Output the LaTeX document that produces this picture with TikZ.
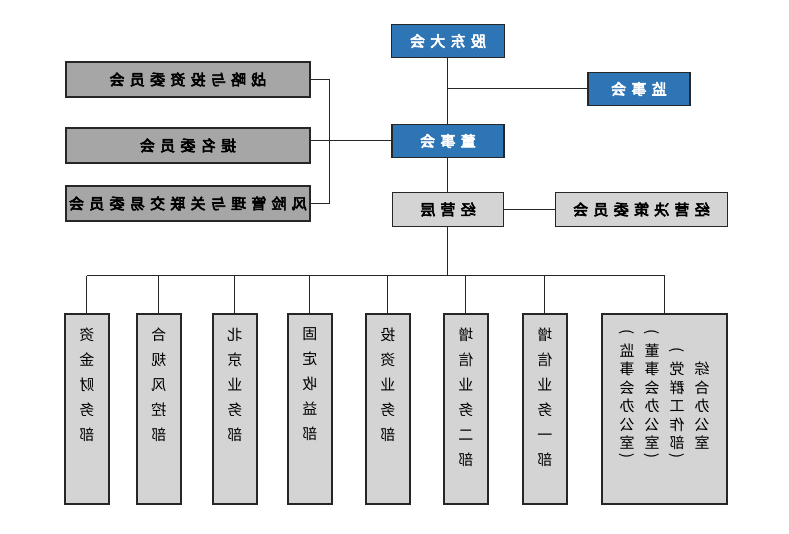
\documentclass[tikz,border=0pt]{standalone}
\usepackage{fontspec}
\usepackage{graphicx}
\setmainfont{Noto Sans CJK SC}
\newfontfamily\headfont{Noto Sans CJK SC}[AutoFakeBold=4, LetterSpace=35]
\usetikzlibrary{positioning}

\definecolor{boardblue}{RGB}{46,117,182}
\definecolor{cmtgray}{RGB}{166,166,166}
\definecolor{deptgray}{RGB}{212,212,212}
\definecolor{linegray}{RGB}{38,38,38}

% one department name, written top to bottom
\newcommand{\vtext}[1]{\parbox[c][162pt][t]{40pt}{\centering #1}}
% one column of the office box
\newcommand{\vcol}[1]{\parbox[b]{25pt}{\centering #1}}
% brackets for vertical text
\newcommand{\vopen}{\rotatebox[origin=c]{-90}{(}}
\newcommand{\vclose}{\scalebox{1}[-1]{\vopen}}

\begin{document}
\begin{tikzpicture}[
    x=1pt, y=-1pt, xscale=-1,
    every node/.style={
        transform shape,
        rectangle,
        draw=linegray,
        line width=1.5pt,
        inner sep=0pt,
        outer sep=0pt,
        align=center,
    },
    topbox/.style={fill=boardblue, text=white, minimum height=33pt,
        font=\headfont\bfseries\fontsize{15}{17}\selectfont},
    midbox/.style={fill=deptgray, minimum height=34pt,
        font=\headfont\bfseries\fontsize{15}{17}\selectfont},
    cmtbox/.style={fill=cmtgray, minimum width=244pt, minimum height=35pt,
        font=\headfont\bfseries\fontsize{15}{17}\selectfont},
    deptbox/.style={fill=deptgray, minimum width=44pt, minimum height=190pt,
        font=\fontsize{15}{25}\selectfont},
    link/.style={draw=linegray, line width=1pt},
]
\useasboundingbox (0,0) rectangle (789,534);

\node[topbox, minimum width=113pt] (gdh) at (341,41) {股东大会};
\node[topbox, minimum width=112pt, below=67pt of gdh] (dsh) {董事会};
\node[midbox, minimum width=111pt, below=35pt of dsh] (jyc) {经营层};
\node[midbox, minimum width=172pt, left=52pt of jyc] (jcwyh) {经营决策委员会};
\node[topbox, minimum width=102pt] (jsh) at (150,89) {监事会};

\node[cmtbox] (zltz) at (601,79.5) {战略与投资委员会};
\node[cmtbox, below=31pt of zltz] (tmwyh) {提名委员会};
\node[cmtbox, below=23pt of tmwyh] (fxgl) {风险管理与关联交易委员会};

\node[deptbox, minimum width=125pt] (zhbgs) at (124.5,409) {\parbox[c][170pt][t]{110pt}{\centering
    \fontsize{15}{18.5}\selectfont\vspace*{5pt}%
    \vcol{综\\合\\办\\公\\室\\[-16pt]\mbox{}}%
    \vcol{\vopen\\[1.5pt]党\\群\\工\\作\\部\\[-16pt]\vclose}%
    \vcol{\vopen\\[1.5pt]董\\事\\会\\办\\公\\室\\[-16pt]\vclose}%
    \vcol{\vopen\\[1.5pt]监\\事\\会\\办\\公\\室\\[-16pt]\vclose}}};
\node[deptbox, right=35pt of zhbgs] (zxyb) {\vtext{增\\信\\业\\务\\一\\部}};
\node[deptbox, right=35pt of zxyb] (zxeb) {\vtext{增\\信\\业\\务\\二\\部}};
\node[deptbox, right=34pt of zxeb] (tzyw) {\vtext{投\\资\\业\\务\\部}};
\node[deptbox, right=34pt of tzyw] (gdsy) {\vtext{固\\定\\收\\益\\部}};
\node[deptbox, right=31pt of gdsy] (bjyw) {\vtext{北\\京\\业\\务\\部}};
\node[deptbox, right=32pt of bjyw] (hgfk) {\vtext{合\\规\\风\\控\\部}};
\node[deptbox, right=28pt of hgfk] (zjcw) {\vtext{资\\金\\财\\务\\部}};

\coordinate (brk) at (459,0);
\coordinate (bus) at (341,276);

\draw[link] (gdh) -- (dsh);
\draw[link] (dsh) -- (jyc);
\draw[link] (jsh.east) -- (jsh.east -| gdh.south);
\draw[link] (dsh.east) -- (dsh.east -| tmwyh.west);
\draw[link] (zltz.west) -| (brk |- fxgl.west) -- (fxgl.west);
\draw[link] (jyc) -- (jcwyh);
\draw[link] (jyc.south) -- (bus);
\draw[link] (zhbgs.north |- bus) -- (zjcw.north |- bus);
\foreach \d in {zhbgs,zxyb,zxeb,tzyw,gdsy,bjyw,hgfk,zjcw}
    \draw[link] (\d.north |- bus) -- (\d.north);

\end{tikzpicture}
\end{document}
